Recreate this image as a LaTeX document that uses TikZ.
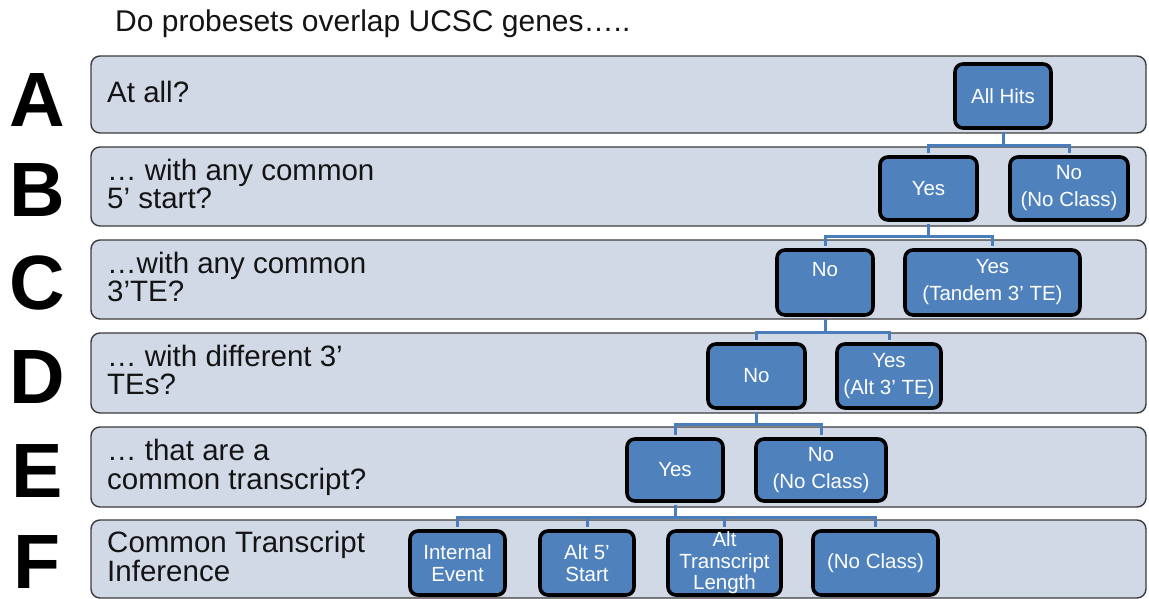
\documentclass[tikz,border=0pt]{standalone}
\usepackage{fontspec}
\setmainfont{Liberation Sans}
\definecolor{bandfill}{HTML}{D2D9E6}
\definecolor{bandedge}{HTML}{3C3C3C}
\definecolor{boxblue}{HTML}{4F81BD}
\definecolor{linkblue}{HTML}{4A7EBB}
\definecolor{textcol}{HTML}{141414}
\begin{document}
\begin{tikzpicture}[x=1pt,y=-1pt,
  band/.style={draw=bandedge, line width=1.4pt, fill=bandfill, rounded corners=9pt, inner sep=0pt, minimum width=1055pt},
  bbox/.style={draw=black, line width=3.6pt, fill=boxblue, rounded corners=8pt, text=white,
    font=\fontsize{20.5}{27}\selectfont, align=center, inner sep=0pt},
  tight/.style={font=\fontsize{20.5}{21.5}\selectfont},
  rowtext/.style={anchor=base west, font=\fontsize{29.5}{29.5}\selectfont, text=textcol, inner sep=0pt},
  letter/.style={font=\fontsize{77}{77}\selectfont\bfseries, inner sep=0pt, text height=55pt, text depth=0pt},
  link/.style={draw=linkblue, line width=3pt, shorten <=1.8pt, shorten >=1.8pt},
]
\useasboundingbox (0,0) rectangle (1149,599);

% title
\node[rowtext, font=\fontsize{30}{30}\selectfont] (title) at (115,32) {Do probesets overlap UCSC genes…..};

% horizontal bands, one per question
\node[band, minimum height=77pt] (bandA) at (618.5,94.5) {};
\node[band, minimum height=79pt] (bandB) at (618.5,186.5) {};
\node[band, minimum height=79pt] (bandC) at (618.5,279.5) {};
\node[band, minimum height=80pt] (bandD) at (618.5,373) {};
\node[band, minimum height=80pt] (bandE) at (618.5,467) {};
\node[band, minimum height=78pt] (bandF) at (618.5,559) {};

% row letters
\node[letter] (letA) at (37,99) {A};
\node[letter] (letB) at (37,188.5) {B};
\node[letter] (letC) at (37,282) {C};
\node[letter] (letD) at (37,375.5) {D};
\node[letter] (letE) at (37,469.5) {E};
\node[letter] (letF) at (37,560.5) {F};

% row questions
\node[rowtext] (qA) at (107,103) {At all?};
\node[rowtext] (qB1) at (107,180) {… with any common};
\node[rowtext] (qB2) at (107,208) {5’ start?};
\node[rowtext] (qC1) at (107,273) {…with any common};
\node[rowtext] (qC2) at (107,301) {3’TE?};
\node[rowtext] (qD1) at (107,366) {… with different 3’};
\node[rowtext] (qD2) at (107,394) {TEs?};
\node[rowtext] (qE1) at (107,460) {… that are a};
\node[rowtext] (qE2) at (107,489) {common transcript?};
\node[rowtext] (qF1) at (107,552) {Common Transcript};
\node[rowtext] (qF2) at (107,581) {Inference};

% decision boxes
\node[bbox, minimum width=96pt, minimum height=64pt] (allhits) at (1003,96) {All Hits};
\node[bbox, minimum width=97pt, minimum height=63pt] (byes) at (928.5,188.5) {Yes};
\node[bbox, minimum width=118pt, minimum height=63pt] (bno) at (1069,188.5) {No\\(No Class)};
\node[bbox, minimum width=96pt, minimum height=65pt] (cno) at (825,282.5) {No\\\mbox{}};
\node[bbox, minimum width=175pt, minimum height=65pt] (cyes) at (992.5,282.5) {Yes\\(Tandem 3’ TE)};
\node[bbox, minimum width=97pt, minimum height=64pt] (dno) at (756.5,376) {No};
\node[bbox, minimum width=104pt, minimum height=64pt] (dyes) at (889,376) {Yes\\(Alt 3’ TE)};
\node[bbox, minimum width=96pt, minimum height=62pt] (eyes) at (675,470) {Yes};
\node[bbox, minimum width=130pt, minimum height=62pt] (eno) at (821,470) {No\\(No Class)};
\node[bbox, tight, minimum width=95pt, minimum height=64pt] (fie) at (457.5,563) {Internal\\Event};
\node[bbox, tight, minimum width=94pt, minimum height=64pt] (fa5) at (587,563) {Alt 5’\\Start};
\node[bbox, tight, minimum width=113pt, minimum height=64pt] (fatl) at (724.5,563) {Alt\\Transcript\\Length};
\node[bbox, tight, minimum width=125pt, minimum height=64pt] (fnc) at (875.5,563) {(No Class)};

% elbow connectors from each parent to its children
\draw[link] (allhits.south) -- ++(0,16) -| (byes.north);
\draw[link] (allhits.south) -- ++(0,16) -| (bno.north);
\draw[link] (byes.south) -- ++(0,15) -| (cno.north);
\draw[link] (byes.south) -- ++(0,15) -| (cyes.north);
\draw[link] (cno.south) -- ++(0,16) -| (dno.north);
\draw[link] (cno.south) -- ++(0,16) -| (dyes.north);
\draw[link] (dno.south) -- ++(0,15) -| (eyes.north);
\draw[link] (dno.south) -- ++(0,15) -| (eno.north);
\draw[link] (eyes.south) -- ++(0,15) -| (fie.north);
\draw[link] (eyes.south) -- ++(0,15) -| (fa5.north);
\draw[link] (eyes.south) -- ++(0,15) -| (fatl.north);
\draw[link] (eyes.south) -- ++(0,15) -| (fnc.north);
\end{tikzpicture}
\end{document}
